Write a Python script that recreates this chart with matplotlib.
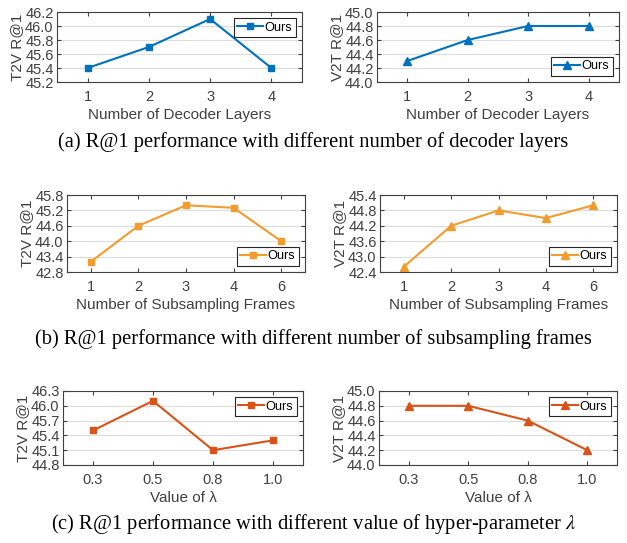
import matplotlib
matplotlib.use("Agg")
import matplotlib.pyplot as plt
import numpy as np

# ---- data ----
decoder_layers = ["1", "2", "3", "4"]
t2v_decoder = [45.4, 45.7, 46.1, 45.4]
v2t_decoder = [44.3, 44.6, 44.8, 44.8]

frames = ["1", "2", "3", "4", "6"]
t2v_frames = [43.2, 44.6, 45.4, 45.3, 44.0]
v2t_frames = [42.6, 44.2, 44.8, 44.5, 45.0]

lambdas = ["0.3", "0.5", "0.8", "1.0"]
t2v_lambda = [45.5, 46.1, 45.1, 45.3]
v2t_lambda = [44.8, 44.8, 44.6, 44.2]

t2v_dec_ticks = [45.2, 45.4, 45.6, 45.8, 46.0, 46.2]
v2t_dec_ticks = [44.0, 44.2, 44.4, 44.6, 44.8, 45.0]
t2v_fr_ticks = [42.8, 43.4, 44.0, 44.6, 45.2, 45.8]
v2t_fr_ticks = [42.4, 43.0, 43.6, 44.2, 44.8, 45.4]
t2v_lam_ticks = [44.8, 45.1, 45.4, 45.7, 46.0, 46.3]
v2t_lam_ticks = [44.0, 44.2, 44.4, 44.6, 44.8, 45.0]

captions = [
    "(a) R@1 performance with different number of decoder layers",
    "(b) R@1 performance with different number of subsampling frames",
    "(c) R@1 performance with different value of hyper-parameter $\\lambda$",
]

BLUE = "#0072BD"
ORANGE = "#F39B2C"
RED = "#D95319"
GRAY = "#404040"

W, H = 627, 543
fig = plt.figure(figsize=(W / 100, H / 100), dpi=100)
plt.rcParams['font.family'] = ['Liberation Sans', 'DejaVu Sans']
plt.rcParams['mathtext.fontset'] = 'stix'


def rect(l, r, t, b):
    return [l / W, 1 - b / H, (r - l) / W, (b - t) / H]


def panel(box, cats, vals, yticks, ylabel, xlabel, color, marker, legloc, ms):
    ax = fig.add_axes(rect(*box))
    x = np.arange(1, len(cats) + 1)
    ax.plot(x, vals, color=color, marker=marker, lw=1.5, ms=ms, label="Ours",
            markerfacecolor=color, markeredgecolor=color)
    ax.set_xlim(0.5, len(cats) + 0.5)
    ax.set_ylim(yticks[0], yticks[-1])
    ax.set_xticks(x)
    ax.set_xticklabels(cats)
    ax.set_yticks(yticks)
    ax.set_yticklabels(["{:.1f}".format(v) for v in yticks])
    ax.yaxis.grid(True, color="#DCDCDC", lw=0.8)
    ax.set_axisbelow(True)
    ax.tick_params(direction="in", top=True, right=True, length=3, width=0.8,
                   labelsize=10.5, colors=GRAY)
    ax.tick_params(axis="x", pad=5.5)
    ax.tick_params(axis="y", pad=2.5)
    for s in ax.spines.values():
        s.set_color(GRAY)
        s.set_linewidth(0.8)
    ax.set_ylabel(ylabel, fontsize=11, color=GRAY, labelpad=1)
    ax.set_xlabel(xlabel, fontsize=11, color=GRAY, labelpad=3)
    leg = ax.legend(loc=legloc, fontsize=9.2, fancybox=False, framealpha=1,
                    edgecolor="#262626", handlelength=2.0, handletextpad=0.15,
                    borderpad=0.25, borderaxespad=0.5)
    leg.get_frame().set_linewidth(0.8)
    return ax


panel((57, 302, 12, 82), decoder_layers, t2v_decoder, t2v_dec_ticks, "T2V R@1",
      "Number of Decoder Layers", BLUE, "s", "upper right", 4.5)
panel((377, 619, 12, 82), decoder_layers, v2t_decoder, v2t_dec_ticks, "V2T R@1",
      "Number of Decoder Layers", BLUE, "^", "lower right", 5.5)
panel((67, 305, 195, 272), frames, t2v_frames, t2v_fr_ticks, "T2V R@1",
      "Number of Subsampling Frames", ORANGE, "s", "lower right", 4.5)
panel((380, 617, 195, 272), frames, v2t_frames, v2t_fr_ticks, "V2T R@1",
      "Number of Subsampling Frames", ORANGE, "^", "lower right", 5.5)
panel((63, 303, 391, 465), lambdas, t2v_lambda, t2v_lam_ticks, "T2V R@1",
      "Value of λ", RED, "s", "upper right", 4.5)
panel((379, 617, 391, 465), lambdas, v2t_lambda, v2t_lam_ticks, "V2T R@1",
      "Value of λ", RED, "^", "upper right", 5.5)

for cap, yc in zip(captions, [142, 339, 524]):
    fig.text(0.5, 1 - yc / H, cap, ha="center", va="center", fontsize=14.8,
             family=["Liberation Serif", "DejaVu Serif"], color="black")

fig.savefig("out.png", dpi=100)
